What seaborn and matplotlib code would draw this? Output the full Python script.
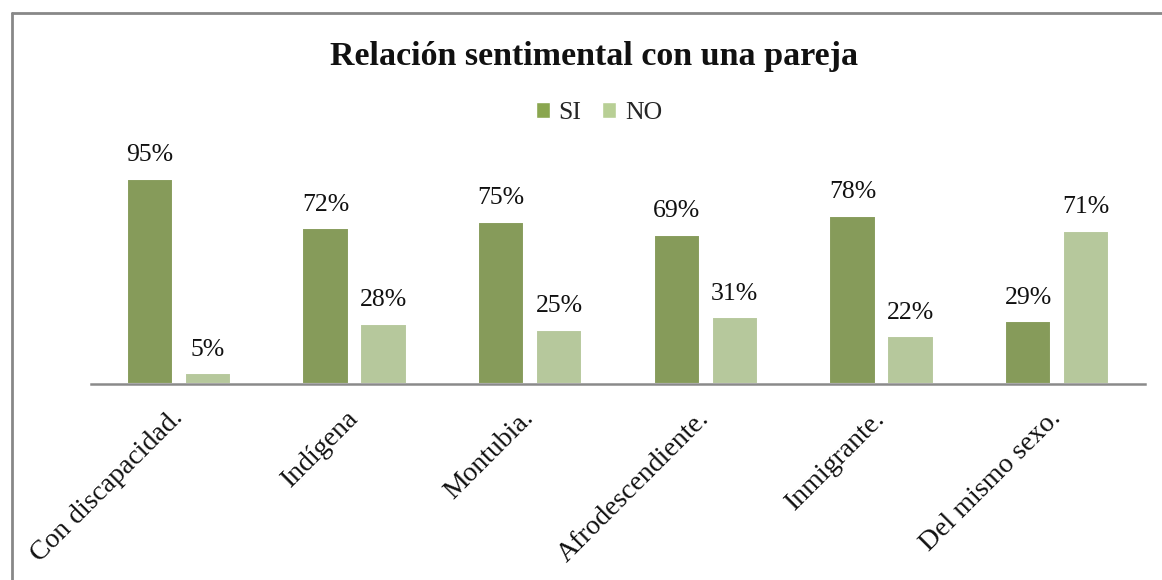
import matplotlib
matplotlib.use("Agg")
import matplotlib.pyplot as plt
import seaborn as sns
import pandas as pd
from matplotlib.lines import Line2D

categories = ["Con discapacidad.", "Indígena", "Montubia.", "Afrodescendiente.", "Inmigrante.", "Del mismo sexo."]
si_values = [95, 72, 75, 69, 78, 29]
no_values = [5, 28, 25, 31, 22, 71]
series = ["SI", "NO"]
colors = {"SI": "#8AA64F", "NO": "#B8CF95"}

df = pd.DataFrame({
    "categoria": categories * 2,
    "serie": ["SI"] * len(categories) + ["NO"] * len(categories),
    "valor": si_values + no_values,
})

sns.set_theme(style="white")
plt.rcParams["font.family"] = ["Liberation Serif", "DejaVu Serif"]

fig = plt.figure(figsize=(11.62, 5.80), dpi=100)
ax = fig.add_axes([91 / 1162, 1 - 384 / 580, (1145 - 91) / 1162, (384 - 168) / 580])

sns.barplot(data=df, x="categoria", y="valor", hue="serie", hue_order=series,
            order=categories, palette=colors, width=0.66, gap=0.2,
            edgecolor="white", linewidth=1.5, ax=ax, legend=False)

ax.set_ylim(0, 100)
ax.set_xlim(-0.5, len(categories) - 0.5)
for c in ax.containers:
    ax.bar_label(c, fmt="%g%%", padding=9, fontsize=18.5, color="#111111")

ax.set_xlabel("")
ax.set_ylabel("")
ax.set_yticks([])
ax.set_xticks(range(len(categories)))
ax.set_xticklabels(categories, rotation=45, ha="right", va="center",
                   rotation_mode="anchor", fontsize=20, color="#111111")
ax.tick_params(axis="x", length=0, pad=22)
for s in ["top", "left", "right"]:
    ax.spines[s].set_visible(False)
ax.spines["bottom"].set_color("#8A8A8A")
ax.spines["bottom"].set_linewidth(1.8)

fig.text(594 / 1162, 1 - 56 / 580, "Relación sentimental con una pareja",
         ha="center", va="center", fontsize=24.5, fontweight="bold", color="#111111")

handles = [plt.Rectangle((0, 0), 1, 1, facecolor=colors[s], edgecolor="white") for s in series]
fig.legend(handles, series, loc="center", bbox_to_anchor=(599 / 1162, 1 - 113 / 580),
           ncol=2, frameon=False, fontsize=18.5, handlelength=0.55, handleheight=0.55,
           handletextpad=0.35, columnspacing=0.8)

fig.add_artist(Line2D([11.5 / 1162, 11.5 / 1162], [0, 1 - 12.5 / 580], color="#888888", lw=2))
fig.add_artist(Line2D([11.5 / 1162, 1], [1 - 12.5 / 580, 1 - 12.5 / 580], color="#888888", lw=2))

fig.savefig("out.png", dpi=100, facecolor="white")
